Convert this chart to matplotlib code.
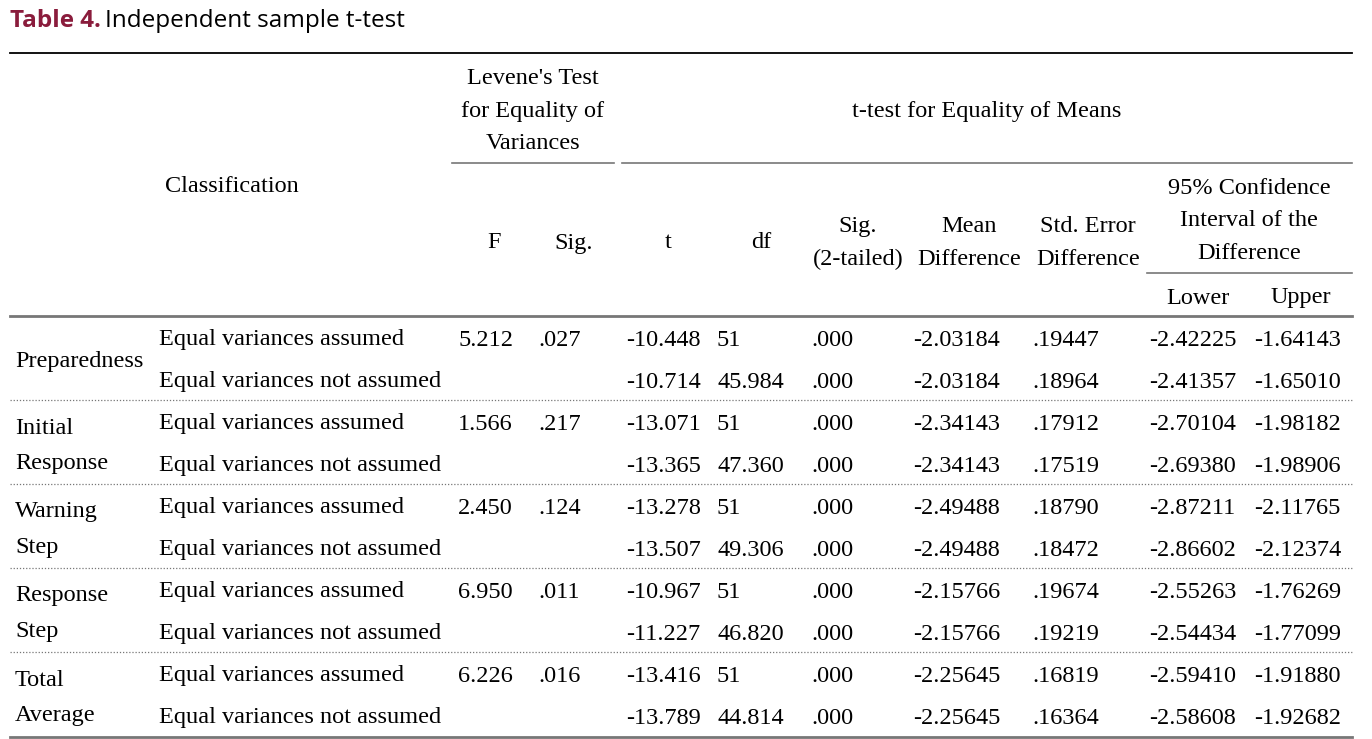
import matplotlib
matplotlib.use("Agg")
from matplotlib import pyplot as plt

# table contents
groups = [["Preparedness"], ["Initial", "Response"], ["Warning", "Step"],
          ["Response", "Step"], ["Total", "Average"]]
row_labels = ["Equal variances assumed", "Equal variances not assumed"]
f_vals = ["5.212", "1.566", "2.450", "6.950", "6.226"]
f_sig = [".027", ".217", ".124", ".011", ".016"]
t_vals = ["-10.448", "-10.714", "-13.071", "-13.365", "-13.278", "-13.507",
          "-10.967", "-11.227", "-13.416", "-13.789"]
df_vals = ["51", "45.984", "51", "47.360", "51", "49.306",
           "51", "46.820", "51", "44.814"]
sig2_vals = [".000"] * 10
mean_diff = ["-2.03184", "-2.03184", "-2.34143", "-2.34143", "-2.49488",
             "-2.49488", "-2.15766", "-2.15766", "-2.25645", "-2.25645"]
se_diff = [".19447", ".18964", ".17912", ".17519", ".18790",
           ".18472", ".19674", ".19219", ".16819", ".16364"]
ci_lower = ["-2.42225", "-2.41357", "-2.70104", "-2.69380", "-2.87211",
            "-2.86602", "-2.55263", "-2.54434", "-2.59410", "-2.58608"]
ci_upper = ["-1.64143", "-1.65010", "-1.98182", "-1.98906", "-2.11765",
            "-2.12374", "-1.76269", "-1.77099", "-1.91880", "-1.92682"]

W, H = 1372, 739
fig = plt.figure(figsize=(W / 100, H / 100), dpi=100)
ax = fig.add_axes([0, 0, 1, 1])
ax.set_xlim(0, W)
ax.set_ylim(H, 0)
ax.axis("off")

serif = "Liberation Serif"
fs = 17.5
grey = "#777777"

# title
t1 = ax.text(10, 21, "Table 4.", fontsize=17.5, fontweight="bold",
             color="#8a1c3c", family="Open Sans", va="center", ha="left")
fig.canvas.draw()
bb = t1.get_window_extent()
ax.text(bb.x1 + 4, 21, "Independent sample t-test", fontsize=17.5,
        color="black", family="Open Sans", va="center", ha="left")

# rules
ax.plot([10, 1352], [53, 53], color="black", lw=1.3)
ax.plot([452, 614], [163, 163], color=grey, lw=1.2)
ax.plot([622, 1352], [163, 163], color=grey, lw=1.2)
ax.plot([1147, 1352], [273, 273], color=grey, lw=1.2)
ax.plot([10, 1352], [316, 316], color=grey, lw=2)
ax.plot([10, 1352], [737, 737], color=grey, lw=2)
for yy in [400, 484, 568, 652]:
    ax.plot([10, 1352], [yy, yy], color=grey, lw=0.9, ls=(0, (1, 1.5)))


def txt(x, y, s, ha="center"):
    ax.text(x, y + 2, s, fontsize=fs, family=serif, ha=ha, va="center",
            linespacing=1.7)


# header
txt(232, 185, "Classification")
txt(533, 109, "Levene's Test\nfor Equality of\nVariances")
txt(987, 109, "t-test for Equality of Means")
txt(494, 241, "F")
txt(574, 241, "Sig.")
txt(668, 241, "t")
txt(761, 241, "df")
txt(858, 241, "Sig.\n(2-tailed)")
txt(969, 241, "Mean\nDifference")
txt(1088, 241, "Std. Error\nDifference")
txt(1249, 219, "95% Confidence\nInterval of the\nDifference")
txt(1198, 296, "Lower")
txt(1301, 296, "Upper")

# body
row_y0, row_h = 338, 42
for g in range(5):
    ya = row_y0 + 2 * g * row_h
    if len(groups[g]) == 1:
        txt(15, ya + row_h / 2, groups[g][0], ha="left")
    else:
        txt(15, ya + 4, groups[g][0], ha="left")
        txt(15, ya + row_h - 3, groups[g][1], ha="left")
    txt(458, ya, f_vals[g], ha="left")
    txt(538, ya, f_sig[g], ha="left")
    for k in range(2):
        i = 2 * g + k
        y = ya + k * row_h
        txt(159, y, row_labels[k], ha="left")
        txt(626, y, t_vals[i], ha="left")
        txt(717, y, df_vals[i], ha="left")
        txt(811, y, sig2_vals[i], ha="left")
        txt(913, y, mean_diff[i], ha="left")
        txt(1032, y, se_diff[i], ha="left")
        txt(1149, y, ci_lower[i], ha="left")
        txt(1254, y, ci_upper[i], ha="left")

fig.savefig("out.png", dpi=100)
